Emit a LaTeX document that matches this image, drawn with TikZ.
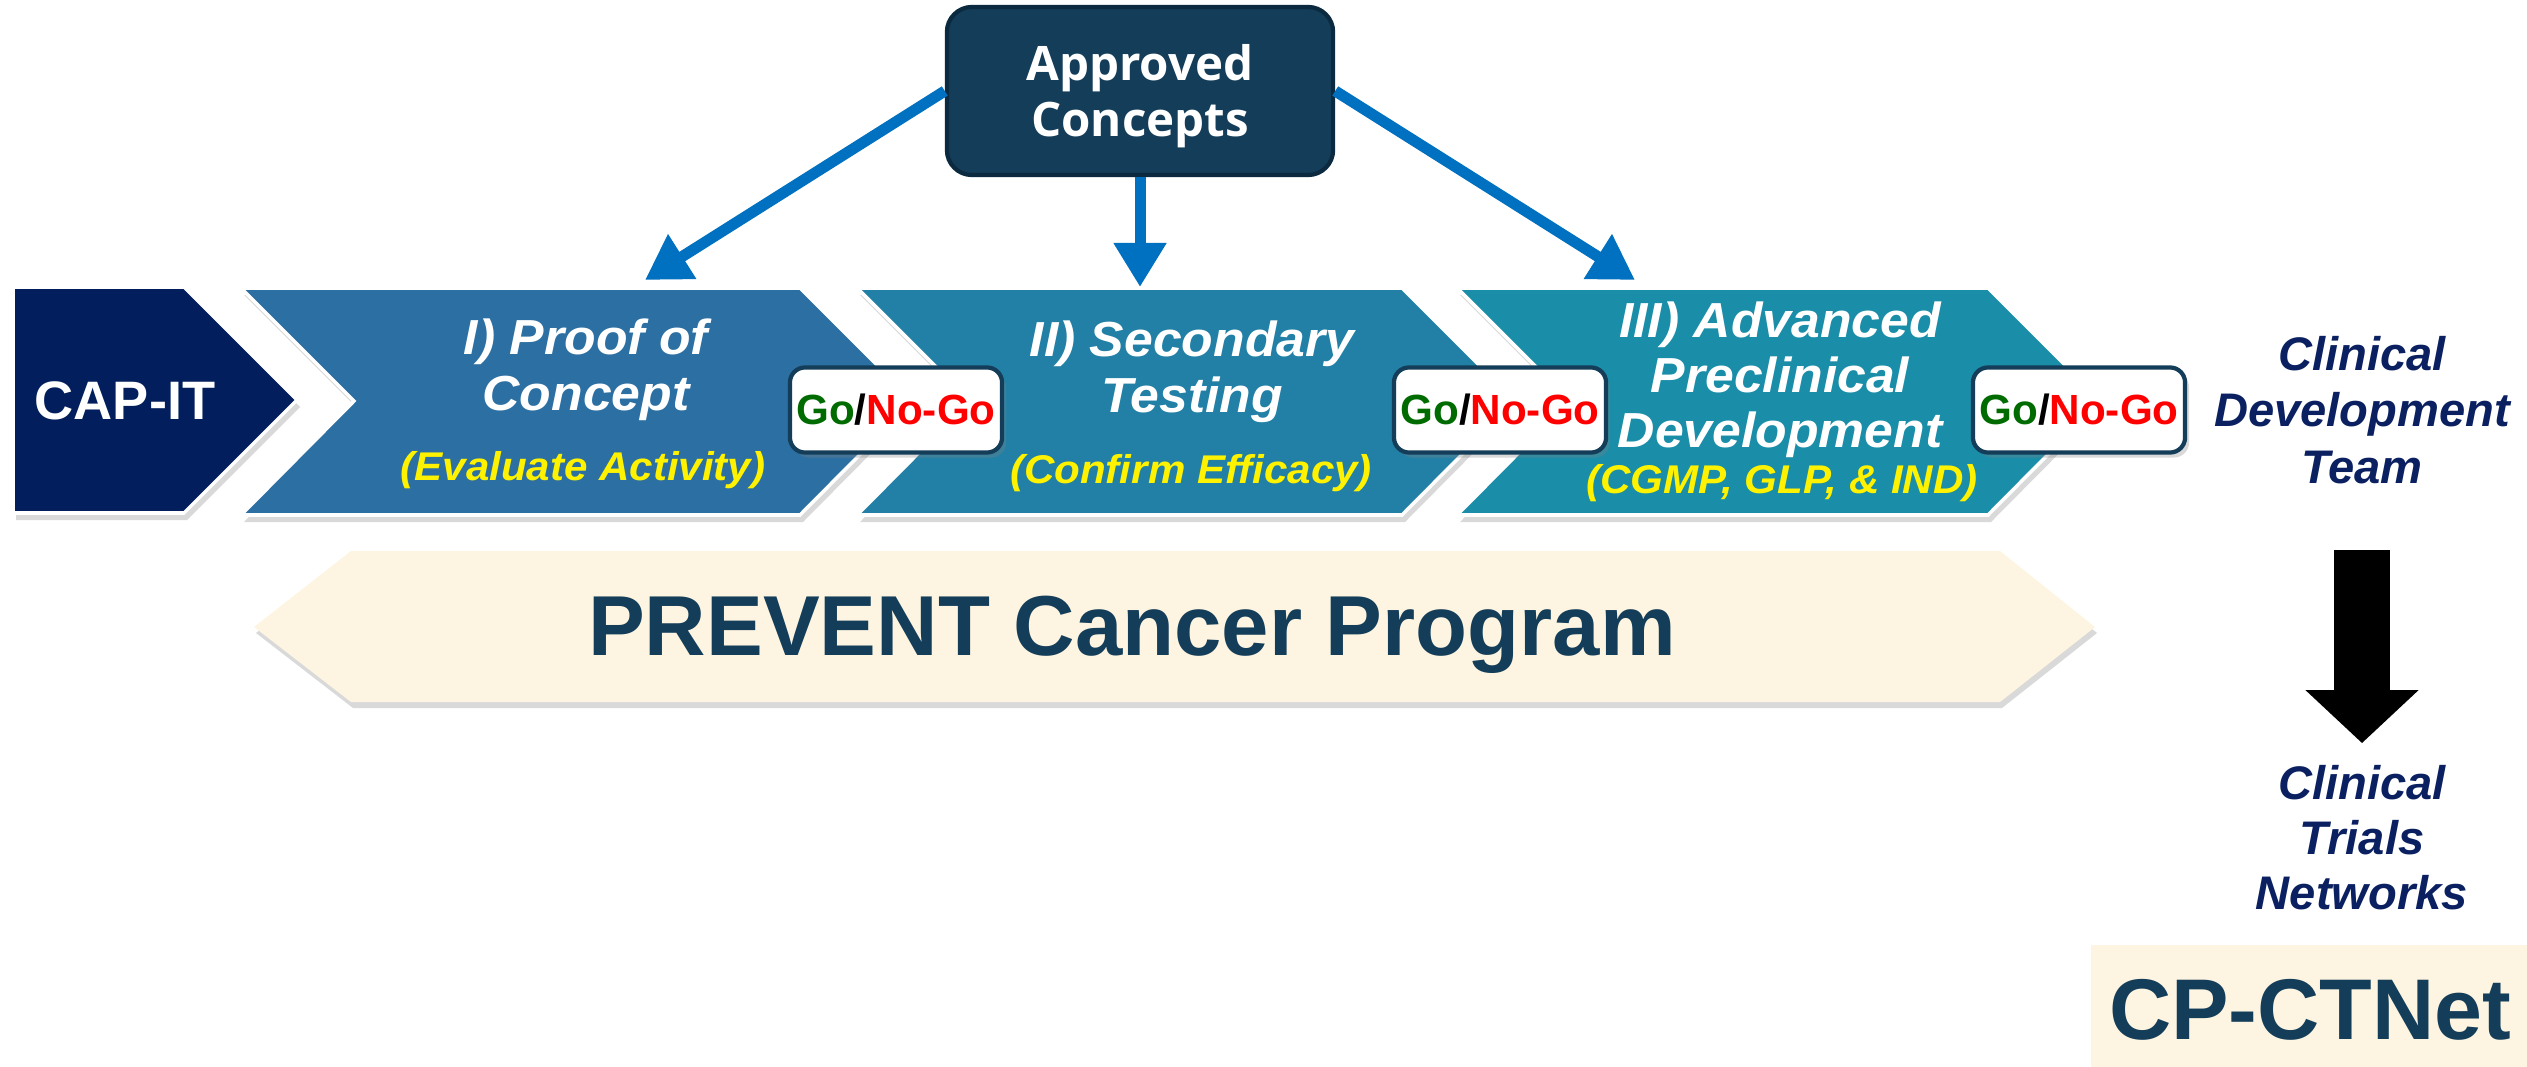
\documentclass[tikz,border=0pt]{standalone}
\usepackage{fontspec}
\setmainfont{Liberation Sans}
\newfontfamily\chevfont[FakeStretch=1.05]{Liberation Sans}
\newfontfamily\boxfont{Open Sans}
\usetikzlibrary{arrows.meta,shadows}

\definecolor{capnavy}{HTML}{021E5C}
\definecolor{phaseone}{HTML}{2C6FA2}
\definecolor{phasetwo}{HTML}{2280A6}
\definecolor{phasethree}{HTML}{1A8DA8}
\definecolor{acfill}{HTML}{143D59}
\definecolor{acborder}{HTML}{0C2A3F}
\definecolor{arrowblue}{HTML}{0070C0}
\definecolor{cream}{HTML}{FDF5E1}
\definecolor{navytext}{HTML}{0A2060}
\definecolor{gogreen}{HTML}{006B00}
\definecolor{nogored}{HTML}{FF0000}

\tikzset{
  chevron/.style={draw=white, line width=1pt,
    drop shadow={shadow xshift=0.03cm, shadow yshift=-0.07cm, opacity=0.3}},
  title/.style={text=white, align=center, inner sep=0pt,
    font=\chevfont\bfseries\itshape\fontsize{14}{15.9}\selectfont},
  sub/.style={text=yellow, inner sep=0pt,
    font=\chevfont\bfseries\itshape\fontsize{11.4}{13}\selectfont},
  gobox/.style={draw=acfill, line width=1.2pt, fill=white, rounded corners=0.15cm,
    minimum width=2.12cm, minimum height=0.85cm, inner sep=0pt,
    font=\bfseries\fontsize{12}{14}\selectfont,
    drop shadow={shadow xshift=0.04cm, shadow yshift=-0.05cm, opacity=0.3}},
  bluearrow/.style={draw=arrowblue, line width=0.11cm,
    -{Triangle[length=0.44cm,width=0.5cm]}},
  sidetext/.style={text=navytext, align=center, inner sep=0pt,
    font=\bfseries\itshape\fontsize{13.4}{16}\selectfont},
}

\newcommand{\gonogo}{\textcolor{gogreen}{Go}/\textcolor{nogored}{No-Go}}

\begin{document}
\begin{tikzpicture}[x=0.01cm,y=-0.01cm]
	\useasboundingbox (0,0) rectangle (2527,1067);
	% stage chevrons
	\fill[chevron,fill=capnavy] (13,287) -- (184,287) -- (297,400) -- (184,513) -- (13,513) -- cycle;
	\fill[chevron,fill=phaseone] (241,288) -- (800,288) -- (913,401) -- (800,515) -- (241,515) -- (354,401) -- cycle;
	\fill[chevron,fill=phasetwo] (857,288) -- (1402,288) -- (1515,401) -- (1402,515) -- (857,515) -- (970,401) -- cycle;
	\fill[chevron,fill=phasethree] (1457,288) -- (1988,288) -- (2101,401) -- (1988,515) -- (1457,515) -- (1570,401) -- cycle;
	\coordinate (tipI) at (645,280);
	\coordinate (tipII) at (1140,287);
	\coordinate (tipIII) at (1635,280);
	\node[text=white, inner sep=0pt, font=\bfseries\fontsize{15.4}{18}\selectfont] (cap) at (125,401) {CAP-IT};
	\node[title] (t1) at (586,370) {I) Proof of\\Concept};
	\node[sub] (s1) at (583,470) {(Evaluate Activity)};
	\node[title] (t2) at (1192,372) {II) Secondary\\Testing};
	\node[sub] (s2) at (1191,473) {(Confirm Efficacy)};
	\node[title, font=\chevfont\bfseries\itshape\fontsize{14}{15.6}\selectfont] (t3) at (1780,380) {III) Advanced\\Preclinical\\Development};
	\node[sub] (s3) at (1782,483) {(CGMP, GLP, \& IND)};
	% decision points
	\node[gobox] (g1) at (896,410) {\gonogo};
	\node[gobox] (g2) at (1500,410) {\gonogo};
	\node[gobox] (g3) at (2079,410) {\gonogo};
	% approved concepts feed the three stages
	\node[fill=acfill, draw=acborder, line width=1.2pt, rounded corners=0.25cm,
	  minimum width=3.86cm, minimum height=1.68cm, text=white, align=center,
	  font=\boxfont\bfseries\fontsize{13.5}{15.9}\selectfont] (ac) at (1140,91) {\rule{0pt}{0.47cm}Approved\\Concepts};
	\draw[bluearrow] (ac.west) -- (tipI);
	\draw[bluearrow] (ac.south) -- (tipII);
	\draw[bluearrow] (ac.east) -- (tipIII);
	% program banner
	\fill[fill=cream, drop shadow={shadow xshift=0.02cm, shadow yshift=-0.06cm, opacity=0.3}]
	  (254,627) -- (351,551) -- (2000,551) -- (2095,627) -- (2000,702) -- (351,702) -- cycle;
	\node[anchor=base, text=acfill, inner sep=0pt, font=\bfseries\fontsize{24.2}{28}\selectfont] (prev) at (1132,655) {PREVENT Cancer Program};
	% clinical side
	\node[sidetext] (cdt) at (2362,410) {Clinical\\Development\\Team};
	\node[sidetext, font=\bfseries\itshape\fontsize{13.4}{15.6}\selectfont] (ctn) at (2362,838) {Clinical\\Trials\\Networks};
	\draw[line width=0.56cm, -{Triangle[length=0.53cm,width=1.1cm]}] ([yshift=-0.66cm]cdt.south) -- ([yshift=0.22cm]ctn.north);
	\fill[cream] (2091,945) rectangle (2527,1067);
	\node[anchor=base, text=acfill, inner sep=0pt, font=\bfseries\fontsize{24.5}{28}\selectfont] (cpct) at (2310,1039) {CP-CTNet};
\end{tikzpicture}
\end{document}
